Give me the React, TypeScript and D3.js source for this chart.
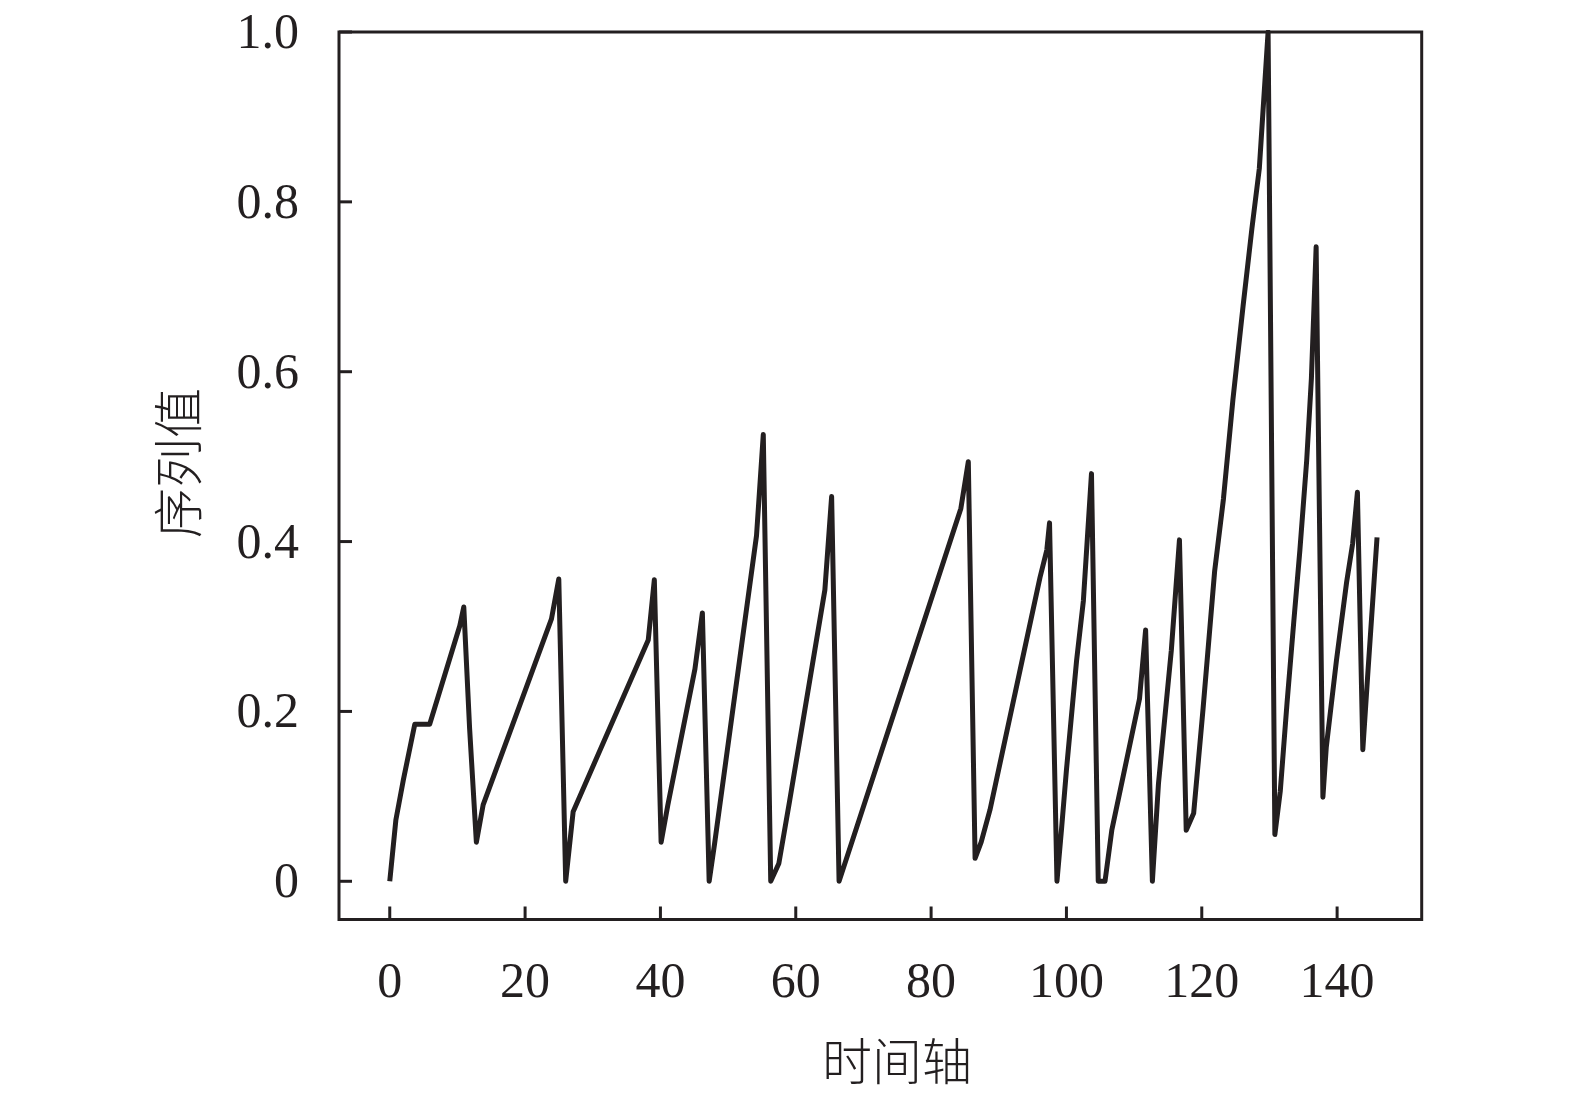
import React from "react";
import * as d3 from "d3";

// Time axis positions of the line's vertices
const timeAxis: number[] = [
  0, 0.9, 2.0, 3.7, 5.9, 10.35, 10.94, 11.8, 12.8, 13.8, 23.9, 24.98, 26.0, 27.1,
  38.2, 39.1, 40.1, 41.1, 45.1, 46.2, 47.2, 48.0, 54.2, 55.2, 56.3, 57.5, 59.1,
  64.3, 65.3, 66.4, 84.4, 85.5, 86.5, 87.4, 88.7, 96.1, 97.1, 97.5, 98.6, 99.3,
  100.0, 101.5, 102.5, 103.7, 104.7, 105.7, 106.7, 110.8, 111.7, 112.7, 113.6,
  115.5, 116.7, 117.7, 118.8, 120.2, 121.9, 123.2, 124.6, 126.1, 127.4, 128.5,
  129.8, 130.8, 131.6, 132.6, 133.6, 134.5, 135.5, 136.2, 136.9, 137.9, 138.4,
  139.9, 141.4, 142.3, 143.0, 143.8, 144.5, 145.9,
];

// Series values at those vertices
const seriesValues: number[] = [
  0, 0.072, 0.119, 0.185, 0.185, 0.301, 0.323, 0.18, 0.046, 0.09, 0.309, 0.356, 0, 0.082,
  0.284, 0.355, 0.046, 0.09, 0.25, 0.316, 0, 0.044, 0.407, 0.526, 0, 0.021, 0.095,
  0.343, 0.453, 0, 0.439, 0.494, 0.027, 0.046, 0.084, 0.358, 0.39, 0.422, 0, 0.064,
  0.131, 0.26, 0.33, 0.48, 0, 0, 0.06, 0.215, 0.296, 0, 0.115,
  0.272, 0.402, 0.06, 0.08, 0.204, 0.365, 0.45, 0.567, 0.677, 0.768, 0.839,
  1.0, 0.055, 0.106, 0.21, 0.306, 0.39, 0.495, 0.592, 0.747, 0.099, 0.158,
  0.26, 0.352, 0.398, 0.458, 0.155, 0.24, 0.405,
];

const xTicks: number[] = [0, 20, 40, 60, 80, 100, 120, 140];
const yTicks: number[] = [0, 0.2, 0.4, 0.6, 0.8, 1.0];
const yTickLabels: string[] = ["0", "0.2", "0.4", "0.6", "0.8", "1.0"];
const xAxisTitle = "时间轴";
const yAxisTitle = "序列值";

const W = 1575;
const H = 1093;
const INK = "#231f20";
const SERIF = "'Liberation Serif', 'Times New Roman', 'DejaVu Serif', serif";
const CJK = "'Noto Sans CJK SC', 'Noto Sans CJK JP', sans-serif";

export default function App() {
  const left = 339;
  const right = 1421.7;
  const top = 32;
  const bottom = 919.5;

  const x = d3.scaleLinear().domain([-7.5, 152.5]).range([left, right]);
  const y = d3.scaleLinear().domain([-0.045, 1.0]).range([bottom, top]);

  const pts: [number, number][] = timeAxis.map((t, i) => [t, seriesValues[i]]);
  const line = d3
    .line<[number, number]>()
    .x((d) => x(d[0]))
    .y((d) => y(d[1]));

  const tickLen = 13;

  return (
    <svg
      width={W}
      height={H}
      viewBox={`0 0 ${W} ${H}`}
      style={{ position: "absolute", left: 0, top: 0, background: "#fff" }}
    >
      <rect x={0} y={0} width={W} height={H} fill="#fff" />
      <defs>
        <clipPath id="plotclip">
          <rect x={left} y={top - 2} width={right - left} height={bottom - top + 2} />
        </clipPath>
      </defs>

      <path
        d={line(pts) || ""}
        fill="none"
        stroke={INK}
        strokeWidth={5}
        strokeLinejoin="round"
        strokeLinecap="butt"
        clipPath="url(#plotclip)"
      />

      {/* y ticks */}
      {yTicks.map((v, i) => (
        <g key={"y" + i}>
          <line x1={left} x2={left + tickLen} y1={y(v)} y2={y(v)} stroke={INK} strokeWidth={3} />
          <text
            x={299}
            y={y(v) + 16}
            textAnchor="end"
            fontFamily={SERIF}
            fontSize={50}
            fill={INK}
          >
            {yTickLabels[i]}
          </text>
        </g>
      ))}

      {/* x ticks */}
      {xTicks.map((t, i) => (
        <g key={"x" + i}>
          <line x1={x(t)} x2={x(t)} y1={bottom} y2={bottom - tickLen} stroke={INK} strokeWidth={3} />
          <text
            x={x(t)}
            y={997}
            textAnchor="middle"
            fontFamily={SERIF}
            fontSize={50}
            fill={INK}
          >
            {String(t)}
          </text>
        </g>
      ))}

      {/* frame */}
      <rect
        x={left}
        y={top}
        width={right - left}
        height={bottom - top}
        fill="none"
        stroke={INK}
        strokeWidth={3}
      />

      <text
        x={897}
        y={1080}
        textAnchor="middle"
        fontFamily={CJK}
        fontWeight={300}
        fontSize={50}
        fill={INK}
      >
        {xAxisTitle}
      </text>
      <text
        transform="translate(197,463) rotate(-90)"
        textAnchor="middle"
        fontFamily={CJK}
        fontWeight={300}
        fontSize={50}
        fill={INK}
      >
        {yAxisTitle}
      </text>
    </svg>
  );
}
